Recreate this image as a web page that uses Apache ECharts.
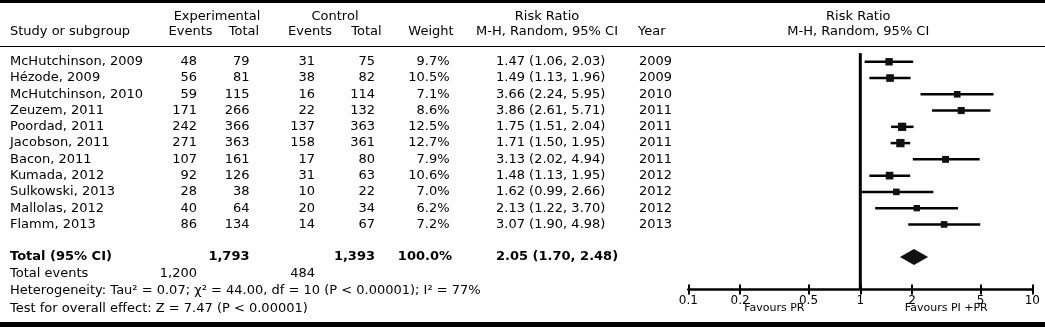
<!DOCTYPE html>
<html>
<head>
<meta charset="utf-8">
<script src="https://cdn.jsdelivr.net/npm/echarts@6.0.0/dist/echarts.min.js"></script>
<style>
  html, body { margin: 0; padding: 0; background: #fff; }
  #chart { width: 1045px; height: 327px; }
</style>
</head>
<body>
<div id="chart"></div>
<script>
// study rows
const studies = ['McHutchinson, 2009', 'Hézode, 2009', 'McHutchinson, 2010', 'Zeuzem, 2011', 'Poordad, 2011',
  'Jacobson, 2011', 'Bacon, 2011', 'Kumada, 2012', 'Sulkowski, 2013', 'Mallolas, 2012', 'Flamm, 2013']
const expEvents = [48, 56, 59, 171, 242, 271, 107, 92, 28, 40, 86]
const expTotal = [79, 81, 115, 266, 366, 363, 161, 126, 38, 64, 134]
const ctrlEvents = [31, 38, 16, 22, 137, 158, 17, 31, 10, 20, 14]
const ctrlTotal = [75, 82, 114, 132, 363, 361, 80, 63, 22, 34, 67]
const weights = [9.7, 10.5, 7.1, 8.6, 12.5, 12.7, 7.9, 10.6, 7.0, 6.2, 7.2]
const rr = [1.47, 1.49, 3.66, 3.86, 1.75, 1.71, 3.13, 1.48, 1.62, 2.13, 3.07]
const rrLow = [1.06, 1.13, 2.24, 2.61, 1.51, 1.50, 2.02, 1.13, 0.99, 1.22, 1.90]
const rrHigh = [2.03, 1.96, 5.95, 5.71, 2.04, 1.95, 4.94, 1.95, 2.66, 3.70, 4.98]
const years = [2009, 2009, 2010, 2011, 2011, 2011, 2011, 2012, 2012, 2012, 2013]

// pooled result
const pooled = [2.05, 1.70, 2.48]
const pooledTotals = ['1,793', '1,393', '100.0%']
const pooledEvents = ['1,200', '484']
const heterogeneity = 'Heterogeneity: Tau² = 0.07; χ² = 44.00, df = 10 (P < 0.00001); I² = 77%'
const overallTest = 'Test for overall effect: Z = 7.47 (P < 0.00001)'

// axis
const xTicks = [0.1, 0.2, 0.5, 1, 2, 5, 10]
const favours = ['Favours PR', 'Favours PI +PR']

const FONT = '"DejaVu Sans", Verdana, sans-serif'
const f = (size, bold) => (bold ? 'bold ' : '') + size + 'px ' + FONT
const logTicks = xTicks.map(v => Math.log10(v))
const fmtFixed = (v) => v.toFixed(2)
const ciText = (e, l, h) => fmtFixed(e) + ' (' + fmtFixed(l) + ', ' + fmtFixed(h) + ')'

// column layout (px)
const col = {
  label: 10, expEv: 197, expTot: 249.5, ctlEv: 315, ctlTot: 375,
  weight: 449.5, rr: 496, year: 639
}
const ROW_TOTAL = 12
const ROW_EVENTS = 13
const ROW_HET = 14.05
const ROW_TEST = 15.15

const txt = (x, y, text, align, font) => ({
  type: 'text',
  style: { x: x, y: y, text: text, fill: '#000', font: font || f(13), align: align || 'left', verticalAlign: 'middle' }
})

const chart = echarts.init(document.getElementById('chart'))

chart.setOption({
  animation: false,
  backgroundColor: '#fff',
  grid: { left: 688.3, right: 12.7, top: 45.5, bottom: 37.5 },
  xAxis: [{
    type: 'value', min: -1, max: 1, position: 'bottom',
    splitLine: { show: false },
    axisLine: { onZero: false, lineStyle: { color: '#000', width: 2.5 } },
    axisTick: { customValues: logTicks, length: 5, lineStyle: { color: '#000', width: 2 } },
    axisLabel: {
      customValues: logTicks, margin: 5, color: '#000', fontSize: 12, fontFamily: FONT,
      formatter: (v) => {
        const i = logTicks.findIndex(t => Math.abs(t - v) < 1e-6)
        return i >= 0 ? String(xTicks[i]) : ''
      }
    }
  }, {
    type: 'value', min: -1, max: 1, position: 'bottom', offset: 0,
    splitLine: { show: false },
    axisLine: { show: false, onZero: false },
    axisTick: { customValues: logTicks, inside: true, length: 5, lineStyle: { color: '#000', width: 2 } },
    axisLabel: { show: false }
  }],
  yAxis: { type: 'value', min: -1, max: 14, inverse: true, show: false },
  graphic: [
    { type: 'rect', shape: { x: 0, y: 0, width: 1045, height: 3 }, style: { fill: '#000' } },
    { type: 'rect', shape: { x: 0, y: 322, width: 1045, height: 5 }, style: { fill: '#000' } },
    { type: 'line', shape: { x1: 0, y1: 46.5, x2: 1045, y2: 46.5 }, style: { stroke: '#000', lineWidth: 1.2 } }
  ],
  series: [
    {
      // line of no effect
      type: 'custom',
      data: [[0, -0.53, 14]],
      encode: { x: 0, y: [1, 2] },
      renderItem: (params, api) => {
        const a = api.coord([api.value(0), api.value(1)])
        const b = api.coord([api.value(0), api.value(2)])
        return { type: 'line', shape: { x1: a[0], y1: a[1], x2: b[0], y2: b[1] }, style: { stroke: '#000', lineWidth: 3 } }
      }
    },
    {
      // study estimates
      type: 'custom',
      data: studies.map((s, i) => [i, Math.log10(rr[i]), Math.log10(rrLow[i]), Math.log10(rrHigh[i]), weights[i]]),
      encode: { x: [1, 2, 3], y: 0 },
      renderItem: (params, api) => {
        const r = api.value(0)
        const c = api.coord([api.value(1), r])
        const l = api.coord([api.value(2), r])
        const h = api.coord([api.value(3), r])
        const s = 4.5 + 0.3 * api.value(4)
        return {
          type: 'group', children: [
            { type: 'line', shape: { x1: l[0], y1: l[1], x2: h[0], y2: h[1] }, style: { stroke: '#000', lineWidth: 2.5 } },
            { type: 'rect', shape: { x: c[0] - s / 2, y: c[1] - s / 2, width: s, height: s }, style: { fill: '#111' } }
          ]
        }
      }
    },
    {
      // pooled diamond
      type: 'custom',
      data: [[ROW_TOTAL, Math.log10(pooled[0]), Math.log10(pooled[1]), Math.log10(pooled[2])]],
      encode: { x: [1, 2, 3], y: 0 },
      renderItem: (params, api) => {
        const r = api.value(0)
        const c = api.coord([api.value(1), r])
        const l = api.coord([api.value(2), r])
        const h = api.coord([api.value(3), r])
        const hh = 8
        return {
          type: 'polygon',
          shape: { points: [[l[0], l[1]], [c[0], c[1] - hh], [h[0], h[1]], [c[0], c[1] + hh]] },
          style: { fill: '#111' }
        }
      }
    },
    {
      // table rows
      type: 'custom',
      data: studies.map((s, i) => [0, i]),
      encode: { x: 0, y: 1 },
      renderItem: (params, api) => {
        const i = params.dataIndex
        const y = api.coord([0, api.value(1)])[1]
        return {
          type: 'group', children: [
            txt(col.label, y, studies[i]),
            txt(col.expEv, y, String(expEvents[i]), 'right'),
            txt(col.expTot, y, String(expTotal[i]), 'right'),
            txt(col.ctlEv, y, String(ctrlEvents[i]), 'right'),
            txt(col.ctlTot, y, String(ctrlTotal[i]), 'right'),
            txt(col.weight, y, weights[i].toFixed(1) + '%', 'right'),
            txt(col.rr, y, ciText(rr[i], rrLow[i], rrHigh[i])),
            txt(col.year, y, String(years[i]))
          ]
        }
      }
    },
    {
      // headers, totals and footers
      type: 'custom',
      data: [[0, 0]],
      encode: { x: 0, y: 1 },
      renderItem: (params, api) => {
        const Y = (r) => api.coord([0, r])[1]
        const h1 = Y(-2.8), h2 = Y(-1.85)
        const plotX = api.coord([0, 0])[0] - 2
        const axisY = Y(14)
        const favY = axisY + 18.5
        return {
          type: 'group', children: [
            txt(217, h1, 'Experimental', 'center'),
            txt(335, h1, 'Control', 'center'),
            txt(547, h1, 'Risk Ratio', 'center'),
            txt(plotX, h1, 'Risk Ratio', 'center'),
            txt(col.label, h2, 'Study or subgroup'),
            txt(190.5, h2, 'Events', 'center'),
            txt(244, h2, 'Total', 'center'),
            txt(310, h2, 'Events', 'center'),
            txt(366.5, h2, 'Total', 'center'),
            txt(431, h2, 'Weight', 'center'),
            txt(547, h2, 'M-H, Random, 95% CI', 'center'),
            txt(638, h2, 'Year'),
            txt(plotX, h2, 'M-H, Random, 95% CI', 'center'),

            txt(col.label, Y(ROW_TOTAL), 'Total (95% CI)', 'left', f(13, true)),
            txt(col.expTot, Y(ROW_TOTAL), pooledTotals[0], 'right', f(13, true)),
            txt(col.ctlTot, Y(ROW_TOTAL), pooledTotals[1], 'right', f(13, true)),
            txt(452, Y(ROW_TOTAL), pooledTotals[2], 'right', f(13, true)),
            txt(col.rr, Y(ROW_TOTAL), ciText(pooled[0], pooled[1], pooled[2]), 'left', f(13, true)),

            txt(col.label, Y(ROW_EVENTS), 'Total events'),
            txt(col.expEv, Y(ROW_EVENTS), pooledEvents[0], 'right'),
            txt(col.ctlEv, Y(ROW_EVENTS), pooledEvents[1], 'right'),
            txt(col.label, Y(ROW_HET), heterogeneity),
            txt(col.label, Y(ROW_TEST), overallTest),

            txt(api.coord([-0.5, 0])[0], favY, favours[0], 'center', f(11)),
            txt(api.coord([0.5, 0])[0], favY, favours[1], 'center', f(11))
          ]
        }
      }
    }
  ]
})
</script>
</body>
</html>
